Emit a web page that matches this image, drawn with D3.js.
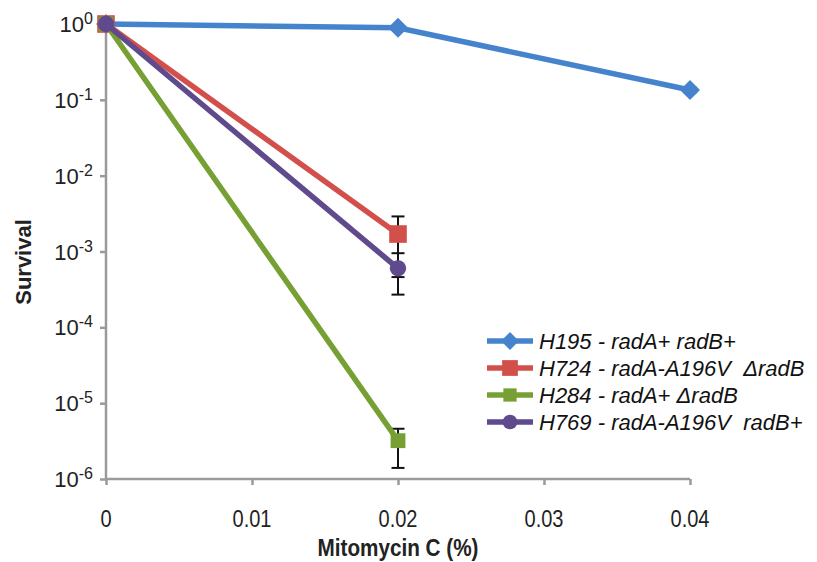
<!DOCTYPE html>
<html><head><meta charset="utf-8">
<script src="https://cdn.jsdelivr.net/npm/d3@7"></script>
<style>body{margin:0;background:#fff}svg{display:block}</style>
</head><body>
<svg id="c" width="817" height="562"></svg>
<script>
const doses = [0, 0.02, 0.04];
const seriesNames = ["H195 - radA+ radB+", "H724 - radA-A196V  \u0394radB", "H284 - radA+ \u0394radB", "H769 - radA-A196V  radB+"];
const h195 = [1, 0.89, 0.135];
const h195Err = [[1,1],[0.89,0.89],[0.125,0.145]];
const h724 = [1, 0.0017];
const h724Err = [[1,1],[0.00046,0.0029]];
const h284 = [1, 0.0000032];
const h284Err = [[1,1],[0.0000014,0.0000046]];
const h769 = [1, 0.0006];
const h769Err = [[1,1],[0.00027,0.00095]];
const xTicks = [0, 0.01, 0.02, 0.03, 0.04];
const yExps = [0, -1, -2, -3, -4, -5, -6];

const colors = ["#4584cc", "#d24f4b", "#76a033", "#5e4a8c"];
const diamond = {draw(ctx, size){ const r = Math.sqrt(size/2); ctx.moveTo(0,-r); ctx.lineTo(r,0); ctx.lineTo(0,r); ctx.lineTo(-r,0); ctx.closePath(); }};
const shapes = [diamond, d3.symbolSquare, d3.symbolSquare, d3.symbolCircle];
const sizes = [200, 310, 220, 210];

const svg = d3.select("#c");
const x = d3.scaleLinear().domain([0, 0.04]).range([106, 690]);
const y = d3.scaleLog().domain([1e-6, 1]).range([479, 24]);

// axes
const axisColor = "#9a9a9a";
const yAxis = svg.append("g").attr("transform", "translate(106,0)")
  .call(d3.axisLeft(y).tickValues(yExps.map(e => Math.pow(10, e))).tickSize(6).tickFormat(""));
const xAxis = svg.append("g").attr("transform", "translate(0,479)")
  .call(d3.axisBottom(x).tickValues(xTicks).tickSize(6).tickFormat(""));
[yAxis, xAxis].forEach(a => {
  a.select(".domain").attr("stroke", axisColor).attr("stroke-width", 2.5);
  a.selectAll(".tick line").attr("stroke", axisColor).attr("stroke-width", 2.5);
});
yAxis.select(".domain").attr("d", `M0,${y(1e-6)}V${y(1)}`);
xAxis.select(".domain").attr("d", `M${x(0)},0H${x(0.04)}`);

const font = "Liberation Sans, Arial, sans-serif";
// y tick labels
yExps.forEach(e => {
  const t = svg.append("text").attr("x", 93).attr("y", y(Math.pow(10, e)) + 8)
    .attr("text-anchor", "end").attr("font-family", font)
    .attr("font-size", 22).attr("fill", "#222");
  t.append("tspan").text("10");
  t.append("tspan").attr("dy", -8).attr("font-size", 16).text(String(e));
});
// x tick labels
xTicks.forEach(v => {
  svg.append("text").attr("transform", `translate(${x(v)},527) scale(0.87,1)`).attr("text-anchor", "middle")
    .attr("font-family", font)
    .attr("font-size", 23).attr("fill", "#222").text(String(v));
});
// titles
svg.append("text").attr("transform", "translate(398,556) scale(0.9,1)").attr("text-anchor", "middle")
  .attr("font-family", font).attr("font-weight", "bold")
  .attr("font-size", 23).attr("fill", "#222").text("Mitomycin C (%)");
svg.append("text").attr("transform", "translate(31,262) rotate(-90)").attr("text-anchor", "middle")
  .attr("font-family", font).attr("font-weight", "bold")
  .attr("font-size", 22).attr("fill", "#222").text("Survival");

const allVals = [h195, h724, h284, h769];
const allErr = [h195Err, h724Err, h284Err, h769Err];
const line = d3.line().x(d => x(d[0])).y(d => y(d[1]));

// error bars
allVals.forEach((vals, i) => {
  allErr[i].forEach((e, j) => {
    if (e[0] === e[1]) return;
    const px = x(doses[j]);
    const g = svg.append("g").attr("stroke", "#111").attr("stroke-width", 2);
    g.append("line").attr("x1", px).attr("x2", px).attr("y1", y(e[0])).attr("y2", y(e[1]));
    [e[0], e[1]].forEach(v => g.append("line").attr("x1", px - 6.5).attr("x2", px + 6.5).attr("y1", y(v)).attr("y2", y(v)));
  });
});

allVals.forEach((vals, i) => {
  const pts = vals.map((v, j) => [doses[j], v]);
  svg.append("path").attr("d", line(pts)).attr("fill", "none")
    .attr("stroke", colors[i]).attr("stroke-width", 5.5);
  pts.forEach(p => {
    svg.append("path").attr("d", d3.symbol().type(shapes[i]).size(sizes[i])())
      .attr("transform", `translate(${x(p[0])},${y(p[1])})`).attr("fill", colors[i]);
  });
});

// legend
const legY = [341, 368, 395, 422];
seriesNames.forEach((name, i) => {
  const ly = legY[i];
  svg.append("line").attr("x1", 487).attr("x2", 533).attr("y1", ly).attr("y2", ly)
    .attr("stroke", colors[i]).attr("stroke-width", 5.5);
  svg.append("path").attr("d", d3.symbol().type(shapes[i]).size(sizes[i] * 0.8)())
    .attr("transform", `translate(510,${ly})`).attr("fill", colors[i]);
  svg.append("text").attr("x", 539).attr("y", ly + 8).attr("font-family", font)
    .attr("font-style", "italic").attr("font-size", 22).attr("fill", "#111")
    .attr("xml:space", "preserve").style("white-space", "pre").text(name);
});
</script>
</body></html>
